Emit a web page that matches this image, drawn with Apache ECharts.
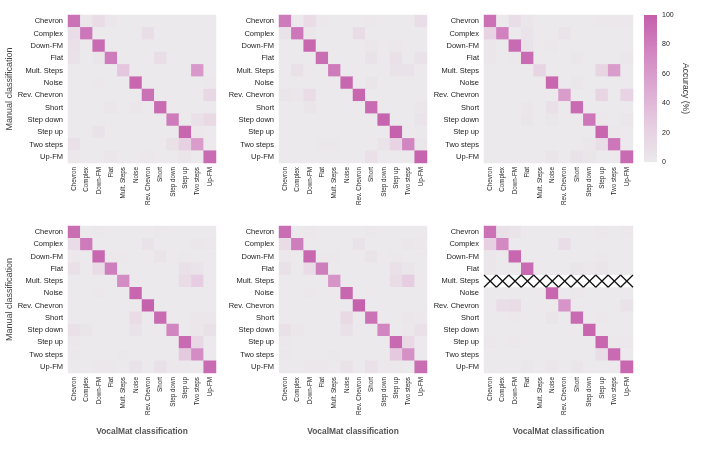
<!DOCTYPE html>
<html><head><meta charset="utf-8">
<script src="https://cdn.jsdelivr.net/npm/echarts@6/dist/echarts.min.js"></script>
<style>html,body{margin:0;padding:0;background:#fff}#c{width:728px;height:459px}</style>
</head><body><div id="c"></div>
<script>
// ---- categories ----
const labels = ['Chevron','Complex','Down-FM','Flat','Mult. Steps','Noise','Rev. Chevron','Short','Step down','Step up','Two steps','Up-FM'];
const colorTicks = [0, 20, 40, 60, 80, 100];
const missingRow = 'Mult. Steps'; // not available in panel 6 (hatched)

// ---- confusion matrices (rows = manual, cols = VocalMat), % ----
const m1 = [
  [88,3,12,3,0,0,0,0,0,0,0,0],
  [10,85,0,0,0,0,10,0,0,0,0,0],
  [8,0,92,0,0,0,0,0,0,0,0,0],
  [6,0,4,82,0,0,0,10,0,0,0,0],
  [0,0,0,0,30,0,0,0,0,0,62,0],
  [0,0,2,0,0,95,0,0,0,0,0,2],
  [0,0,0,0,0,0,88,0,0,0,0,15],
  [0,0,0,3,0,3,0,92,0,0,0,0],
  [0,0,0,0,0,0,0,0,82,0,8,14],
  [0,0,6,0,0,0,0,0,0,95,2,0],
  [8,0,0,0,0,0,0,0,8,22,60,0],
  [2,0,0,3,0,0,2,0,0,4,0,92]
];
const m2 = [
  [82,0,12,2,0,0,0,2,0,0,0,10],
  [6,85,3,0,0,0,12,0,0,0,0,0],
  [0,0,95,0,0,0,0,3,0,2,0,0],
  [0,0,0,90,0,0,0,6,0,7,0,6],
  [0,8,0,0,82,0,0,0,0,6,6,0],
  [0,0,0,0,0,95,0,4,0,0,0,0],
  [4,3,12,0,0,0,95,0,0,0,0,0],
  [0,0,4,0,0,0,0,92,0,0,0,3],
  [0,0,0,0,0,0,0,0,96,0,0,5],
  [0,0,0,0,0,0,0,0,0,98,0,1],
  [0,0,0,2,2,0,0,0,5,20,75,4],
  [0,0,0,0,0,0,0,8,0,0,0,96]
];
const m3 = [
  [88,0,10,3,0,0,0,0,0,2,2,2],
  [20,78,0,5,0,0,5,0,0,0,0,0],
  [3,0,92,6,0,2,0,0,0,0,0,0],
  [3,0,2,92,0,0,0,3,0,0,0,3],
  [0,0,0,0,18,0,0,0,0,18,60,0],
  [0,0,0,0,0,95,0,3,0,0,0,0],
  [0,0,0,0,0,0,60,0,0,18,0,20],
  [0,0,0,3,0,8,0,92,0,0,0,0],
  [0,0,0,4,0,3,0,0,85,2,0,3],
  [0,0,0,0,0,0,0,0,0,95,2,0],
  [0,0,0,0,0,0,0,0,3,10,85,0],
  [0,0,0,0,0,4,0,6,4,0,0,92]
];
const m4 = [
  [90,0,2,0,0,0,0,2,0,0,0,0],
  [12,82,0,0,0,0,6,0,0,0,3,2],
  [2,0,95,2,2,0,0,5,0,2,0,0],
  [8,0,12,80,0,0,0,0,0,8,5,0],
  [0,0,0,0,70,0,0,0,0,12,25,0],
  [0,0,2,0,0,95,0,0,0,0,0,0],
  [0,0,0,0,0,0,98,0,0,0,0,0],
  [0,0,0,0,0,12,0,92,0,0,3,3],
  [8,4,0,0,0,6,0,0,75,0,3,8],
  [2,0,0,0,0,0,0,0,0,92,15,0],
  [1,0,0,0,1,0,0,0,0,28,70,0],
  [0,0,2,2,0,6,0,8,2,2,0,92]
];
const m5 = [
  [90,0,2,0,0,0,0,2,0,0,0,0],
  [12,80,0,0,0,0,6,0,0,0,3,2],
  [2,0,95,2,2,0,0,5,0,2,0,0],
  [8,0,12,80,0,0,0,0,0,8,4,0],
  [0,0,0,0,65,0,0,0,0,12,25,0],
  [0,0,2,0,0,95,0,0,0,0,0,0],
  [0,0,0,0,0,0,98,0,0,0,0,0],
  [0,0,0,0,0,14,0,88,0,0,3,2],
  [8,3,0,0,0,8,0,0,75,0,2,8],
  [2,0,0,0,0,0,0,0,0,93,14,0],
  [1,0,0,0,1,0,0,0,0,28,68,0],
  [0,0,2,2,0,6,0,8,2,2,0,90]
];
const m6 = [
  [88,8,5,0,0,0,0,0,0,2,0,2],
  [22,72,0,0,0,0,10,0,0,0,0,0],
  [3,0,95,0,0,0,0,0,0,2,0,0],
  [3,0,0,92,0,0,0,4,2,4,0,0],
  null,
  [0,0,0,0,0,95,0,2,0,0,0,0],
  [0,10,12,0,0,0,65,0,0,0,0,6],
  [0,0,2,0,0,4,0,92,0,2,0,0],
  [0,0,0,0,0,0,0,0,95,0,0,0],
  [2,0,2,0,0,0,0,0,0,95,2,2],
  [0,0,0,0,0,0,0,0,0,10,92,0],
  [0,0,0,3,0,3,0,4,0,0,0,95]
];

const matrices = [m1, m2, m3, m4, m5, m6];
const cmap = ['#ebe9eb', '#e6cde1', '#ddaad2', '#d286c1', '#c55eac'];
const FONT = 'Liberation Sans, Arial, sans-serif';

const boxes = [
  {left:68, top:15, width:148, height:148},
  {left:279, top:15, width:148, height:148},
  {left:484, top:15, width:149, height:148},
  {left:68, top:226, width:148, height:147},
  {left:279, top:226, width:148, height:147},
  {left:484, top:226, width:149, height:147}
];

const grid = boxes.map(b => Object.assign({containLabel:false}, b));
grid.push({left:644, top:15, width:13, height:147});

const xAxis = boxes.map((b, i) => ({
  type:'category', gridIndex:i, data:labels,
  axisLine:{show:false}, axisTick:{show:false}, splitLine:{show:false},
  axisLabel:{rotate:90, interval:0, fontSize:6.3, margin:4, color:'#222', fontFamily:FONT},
  name: i >= 3 ? 'VocalMat classification' : '',
  nameLocation:'middle', nameGap:55,
  nameTextStyle:{fontSize:8.4, fontWeight:'bold', color:'#555', fontFamily:FONT}
}));
xAxis.push({type:'category', gridIndex:6, data:[''], show:false});

const yAxis = boxes.map((b, i) => ({
  type:'category', gridIndex:i, data:labels, inverse:true,
  axisLine:{show:false}, axisTick:{show:false}, splitLine:{show:false},
  axisLabel:{interval:0, fontSize:7.5, margin:5, color:'#222', fontFamily:FONT},
  name: (i === 0 || i === 3) ? 'Manual classification' : '',
  nameLocation:'middle', nameGap:54, nameRotate:90,
  nameTextStyle:{fontSize:9, color:'#444', fontFamily:FONT}
}));
yAxis.push({
  type:'value', gridIndex:6, min:0, max:100, interval:20, position:'right',
  axisLine:{show:false}, axisTick:{show:false}, splitLine:{show:false},
  axisLabel:{fontSize:7, margin:5, color:'#222', fontFamily:FONT,
    formatter: v => colorTicks.includes(v) ? String(v) : ''},
  name:'Accuracy (%)', nameLocation:'middle', nameGap:24, nameRotate:-90,
  nameTextStyle:{fontSize:8.6, color:'#333', fontFamily:FONT}
});

const series = matrices.map((m, i) => {
  const data = [];
  m.forEach((row, r) => { if (row) row.forEach((v, c) => data.push([c, r, v])); });
  return {
    type:'heatmap', xAxisIndex:i, yAxisIndex:i, data,
    itemStyle:{borderWidth:0}, emphasis:{disabled:true}, progressive:0, silent:true
  };
});

// hatched missing row in panel 6
const mr = labels.indexOf(missingRow);
const hatchData = labels.map((_, c) => [c, mr]);
series.push({
  type:'custom', xAxisIndex:5, yAxisIndex:5, data:hatchData, silent:true, z:3,
  renderItem:(params, api) => {
    const p = api.coord([api.value(0), api.value(1)]);
    const s = api.size([1, 1]);
    return {type:'rect', shape:{x:p[0]-s[0]/2, y:p[1]-s[1]/2, width:s[0]+0.5, height:s[1]}, style:{fill:'#fff'}};
  }
});
series.push({
  type:'custom', xAxisIndex:5, yAxisIndex:5, data:hatchData, silent:true, z:4,
  renderItem:(params, api) => {
    const p = api.coord([api.value(0), api.value(1)]);
    const s = api.size([1, 1]);
    const x0 = p[0]-s[0]/2, x1 = p[0]+s[0]/2, y0 = p[1]-s[1]/2, y1 = p[1]+s[1]/2;
    const st = {stroke:'#111', lineWidth:1.3, fill:null};
    return {type:'group', children:[
      {type:'line', shape:{x1:x0, y1:y0, x2:x1, y2:y1}, style:st},
      {type:'line', shape:{x1:x0, y1:y1, x2:x1, y2:y0}, style:st}
    ]};
  }
});

// colour bar
series.push({
  type:'custom', xAxisIndex:6, yAxisIndex:6, data:[[0, colorTicks[colorTicks.length-1], colorTicks[0]]], silent:true,
  renderItem:(params, api) => {
    const top = api.coord([0, api.value(1)]);
    const bot = api.coord([0, api.value(2)]);
    const w = api.size([1, 0])[0];
    const stops = cmap.map((c, k) => ({offset: 1 - k/(cmap.length-1), color:c}));
    return {type:'rect', shape:{x:top[0]-w/2, y:top[1], width:w, height:bot[1]-top[1]},
      style:{fill:new echarts.graphic.LinearGradient(0,0,0,1, stops.reverse())}};
  }
});

const chart = echarts.init(document.getElementById('c'), null, {renderer:'canvas'});
chart.setOption({
  animation:false,
  backgroundColor:'#fff',
  textStyle:{fontFamily:FONT},
  grid, xAxis, yAxis,
  visualMap:{type:'continuous', min:0, max:100, show:false, seriesIndex:[0,1,2,3,4,5], inRange:{color:cmap}},
  series
});
</script></body></html>
